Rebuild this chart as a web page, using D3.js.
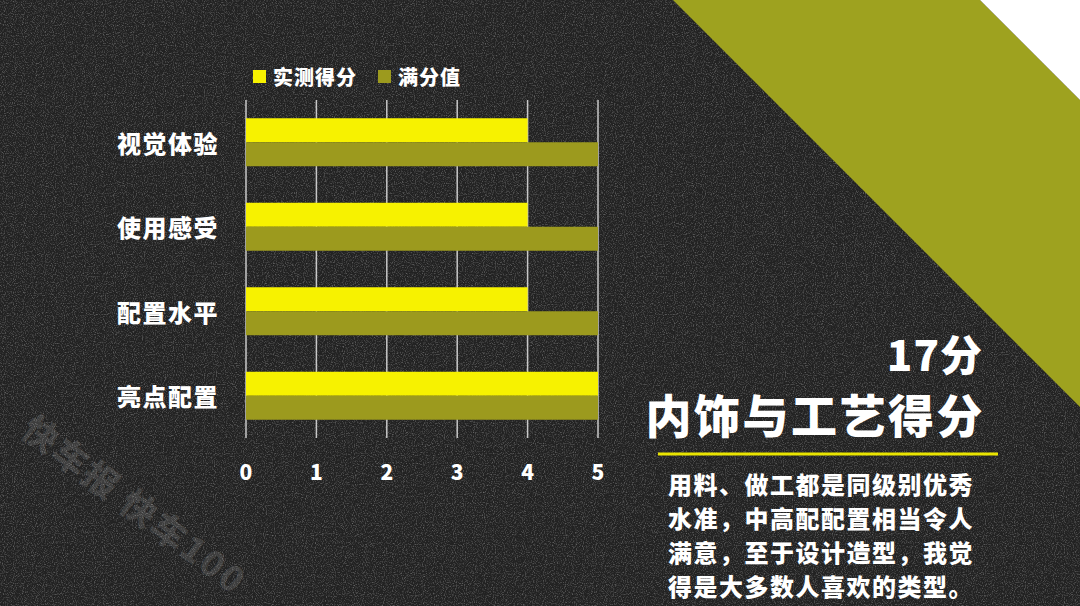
<!DOCTYPE html>
<html><head><meta charset="utf-8">
<script src="https://cdn.jsdelivr.net/npm/d3@7"></script>
<style>
html,body{margin:0;padding:0;background:#262626;}
svg{display:block;}
text{font-family:"Noto Sans CJK SC","Noto Sans",sans-serif;font-weight:900;}
</style></head>
<body>
<svg id="chart" width="1080" height="606"></svg>
<script>
const categories = ["视觉体验","使用感受","配置水平","亮点配置"];
const measured = [4,4,4,5];
const fullScore = [5,5,5,5];
const seriesNames = ["实测得分","满分值"];
const tickValues = [0,1,2,3,4,5];
const titleScore = "17分";
const titleText = "内饰与工艺得分";
const bodyLines = ["用料、做工都是同级别优秀","水准，中高配配置相当令人","满意，至于设计造型，我觉","得是大多数人喜欢的类型。"];
const watermark = "快车报 快车100";

const W = 1080, H = 606;
const colors = ["#f7f200", "#9c9a1e"];
const svg = d3.select("#chart");

// noise filter
const defs = svg.append("defs");
const f = defs.append("filter").attr("id","noise").attr("x",0).attr("y",0).attr("width","100%").attr("height","100%");
f.append("feTurbulence").attr("type","fractalNoise").attr("baseFrequency",0.9).attr("numOctaves",2).attr("seed",3).attr("result","t");
f.append("feColorMatrix").attr("in","t").attr("type","matrix")
  .attr("values","0 0 0 0 1  0 0 0 0 1  0 0 0 0 1  1.6 0 0 0 -0.75");

// background
svg.append("rect").attr("width",W).attr("height",H).attr("fill","#222222");
svg.append("rect").attr("width",W).attr("height",H).attr("filter","url(#noise)").attr("opacity",0.45);

// diagonal band
const band = d3.line();
svg.append("path").attr("d", band([[673,0],[980,0],[1080,100],[1080,407]])+"Z").attr("fill","#9ea21f");
svg.append("path").attr("d", band([[980,0],[1080,0],[1080,100]])+"Z").attr("fill","#ffffff");

// watermark
svg.append("text").attr("transform","translate(136,503) rotate(37)")
  .attr("text-anchor","middle").attr("dominant-baseline","central")
  .attr("font-size",35).attr("font-weight",500).attr("letter-spacing",2.5).attr("fill","rgba(255,255,255,0.13)")
  .text(watermark);

// scales
const x = d3.scaleLinear().domain([0,5]).range([246,598]);
const y = d3.scaleBand().domain(categories).range([100,438]).paddingInner(0.432).paddingOuter(0.216);
const y2 = d3.scaleBand().domain([0,1]).range([0, y.bandwidth()]);

// gridlines
svg.append("g").selectAll("line").data(tickValues).join("line")
  .attr("x1",d=>x(d)).attr("x2",d=>x(d)).attr("y1",100).attr("y2",438)
  .attr("stroke","#c8c8c8").attr("stroke-width",1.5);

// bars
const rows = categories.map((c,i)=>({c, vals:[measured[i], fullScore[i]]}));
const g = svg.append("g").selectAll("g").data(rows).join("g")
  .attr("transform",d=>`translate(0,${y(d.c)})`);
g.selectAll("rect").data(d=>d.vals.map((v,k)=>({v,k}))).join("rect")
  .attr("x",x(0)).attr("y",d=>y2(d.k)).attr("height",y2.bandwidth())
  .attr("width",d=>x(d.v)-x(0)).attr("fill",d=>colors[d.k]);

// category labels
svg.append("g").selectAll("text").data(categories).join("text")
  .attr("x",219).attr("y",d=>y(d)+y.bandwidth()/2)
  .attr("text-anchor","end").attr("dominant-baseline","central")
  .attr("font-size",24).attr("letter-spacing",1.5).attr("fill","#fff").text(d=>d);

// x tick labels
svg.append("g").selectAll("text").data(tickValues).join("text")
  .attr("x",d=>x(d)).attr("y",471)
  .attr("text-anchor","middle").attr("dominant-baseline","central")
  .attr("font-size",21).attr("fill","#fff").text(d=>d);

// legend
const legX = [253, 378];
const lg = svg.append("g").selectAll("g").data(seriesNames).join("g")
  .attr("transform",(d,i)=>`translate(${legX[i]},70)`);
lg.append("rect").attr("width",13).attr("height",13).attr("fill",(d,i)=>colors[i]);
lg.append("text").attr("x",20).attr("y",6.5).attr("dominant-baseline","central")
  .attr("font-size",20).attr("letter-spacing",1).attr("fill","#fff").text(d=>d);

// title
svg.append("text").attr("x",983).attr("y",352).attr("text-anchor","end").attr("dominant-baseline","central")
  .attr("font-size",42).attr("letter-spacing",1).attr("fill","#fff").text(titleScore);
svg.append("text").attr("x",985).attr("y",413).attr("text-anchor","end").attr("dominant-baseline","central")
  .attr("font-size",46).attr("letter-spacing",2.5).attr("fill","#fff").text(titleText);

// yellow rule
svg.append("line").attr("x1",658).attr("x2",998).attr("y1",454).attr("y2",454)
  .attr("stroke","#e9e400").attr("stroke-width",3);

// body text
svg.append("g").selectAll("text").data(bodyLines).join("text")
  .attr("x",668).attr("y",(d,i)=>483+i*34).attr("dominant-baseline","central")
  .attr("font-size",24).attr("letter-spacing",1.5).attr("fill","#fff").text(d=>d);
</script>
</body></html>
